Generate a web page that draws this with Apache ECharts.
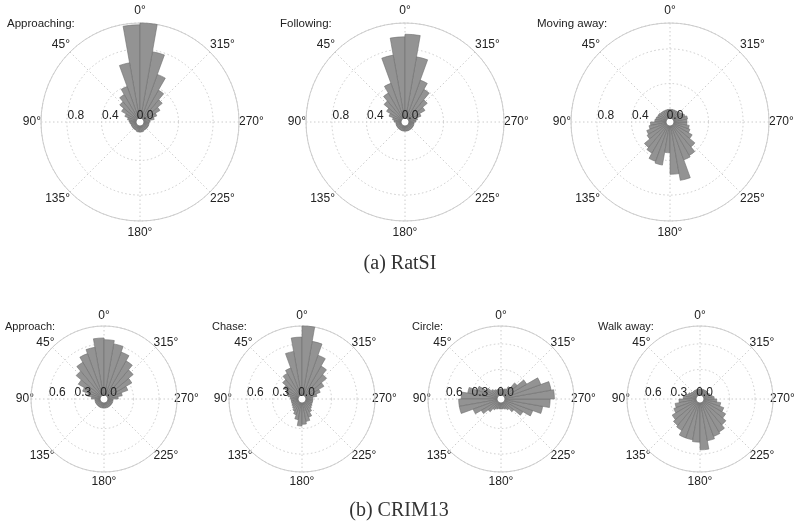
<!DOCTYPE html>
<html>
<head>
<meta charset="utf-8">
<script src="https://cdn.jsdelivr.net/npm/echarts@6/dist/echarts.min.js"></script>
<style>html,body{margin:0;padding:0;background:#fff}#c{width:794px;height:528px}</style>
</head>
<body>
<div id="c"></div>
<script>
// ---- data (36 angular bins of 10°, bin k covers [10k, 10k+10] degrees) ----
const bins = ['0','10','20','30','40','50','60','70','80','90','100','110','120','130','140','150','160','170',
              '180','190','200','210','220','230','240','250','260','270','280','290','300','310','320','330','340','350'];
const angleTickLabels = ['0°','45°','90°','135°','180°','225°','270°','315°'];
const ratsiRadiusLabels = ['0.0','0.4','0.8'];
const crimRadiusLabels = ['0.0','0.3','0.6'];

const approaching = [1.08,0.65,0.39,0.32,0.26,0.20,0.14,0.10,0.08,0.07,0.06,0.06,0.06,0.06,0.06,0.06,0.07,0.07,
                     0.07,0.07,0.06,0.06,0.06,0.06,0.06,0.06,0.06,0.07,0.12,0.16,0.22,0.29,0.38,0.54,0.78,1.10];
const following   = [0.94,0.74,0.43,0.34,0.27,0.20,0.15,0.10,0.08,0.06,0.06,0.06,0.06,0.06,0.06,0.06,0.06,0.06,
                     0.06,0.06,0.06,0.06,0.06,0.06,0.06,0.06,0.06,0.08,0.10,0.15,0.22,0.29,0.39,0.47,0.72,0.97];
const movingAway  = [0.10,0.10,0.10,0.10,0.10,0.11,0.11,0.12,0.13,0.18,0.20,0.24,0.26,0.34,0.37,0.44,0.46,0.31,
                     0.56,0.64,0.42,0.40,0.33,0.25,0.20,0.18,0.15,0.15,0.16,0.14,0.12,0.11,0.10,0.10,0.10,0.10];
const approach    = [0.67,0.57,0.52,0.45,0.38,0.30,0.22,0.15,0.10,0.06,0.06,0.06,0.06,0.06,0.06,0.06,0.06,0.06,
                     0.06,0.06,0.06,0.06,0.06,0.06,0.06,0.06,0.06,0.12,0.17,0.25,0.33,0.40,0.47,0.54,0.61,0.65];
const chase       = [0.68,0.52,0.34,0.30,0.25,0.20,0.15,0.12,0.09,0.08,0.08,0.08,0.09,0.10,0.12,0.15,0.20,0.27,
                     0.25,0.22,0.18,0.13,0.10,0.09,0.08,0.08,0.08,0.08,0.13,0.18,0.25,0.33,0.40,0.50,0.64,0.81];
const circle      = [0.07,0.07,0.07,0.08,0.10,0.15,0.25,0.35,0.42,0.45,0.45,0.30,0.22,0.15,0.10,0.08,0.07,0.07,
                     0.07,0.07,0.08,0.10,0.15,0.25,0.35,0.45,0.53,0.58,0.55,0.45,0.30,0.20,0.12,0.08,0.07,0.07];
const walkAway    = [0.07,0.07,0.07,0.07,0.07,0.08,0.10,0.12,0.15,0.20,0.25,0.28,0.33,0.36,0.38,0.44,0.44,0.46,
                     0.55,0.45,0.42,0.40,0.35,0.30,0.25,0.20,0.15,0.12,0.10,0.08,0.07,0.07,0.07,0.07,0.07,0.07];

const titles = ['Approaching:','Following:','Moving away:','Approach:','Chase:','Circle:','Walk away:'];
const captions = ['(a) RatSI','(b) CRIM13'];

// ---- layout ----
const rowA = {R:99, max:1.1,  step:0.4, labels: ratsiRadiusLabels, fs:11.5, am:0,  lh:24, rpad:18};
const rowB = {R:73, max:0.81, step:0.3, labels: crimRadiusLabels,  fs:11,   am:-3, lh:26, rpad:17};
const panels = [
  Object.assign({data: approaching, cx:140, cy:122, tx:7,   ty:24 }, rowA),
  Object.assign({data: following,   cx:405, cy:122, tx:280, ty:24 }, rowA),
  Object.assign({data: movingAway,  cx:670, cy:122, tx:537, ty:24 }, rowA),
  Object.assign({data: approach,    cx:104, cy:399, tx:5,   ty:327}, rowB),
  Object.assign({data: chase,       cx:302, cy:399, tx:212, ty:327}, rowB),
  Object.assign({data: circle,      cx:501, cy:399, tx:412, ty:327}, rowB),
  Object.assign({data: walkAway,    cx:700, cy:399, tx:598, ty:327}, rowB)
];

const FONT = 'Liberation Sans, Arial, sans-serif';
const gridColor = '#cccccc';
const hidden = {axisLine: {show: false}, axisTick: {show: false}, axisLabel: {show: false}, splitLine: {show: false}};
const polar = [], angleAxis = [], radiusAxis = [], series = [], graphic = [];

panels.forEach((p, i) => {
  const pb = 3 * i, pg = 3 * i + 1, pl = 3 * i + 2;
  polar.push({center: [p.cx, p.cy], radius: [4, p.R]});
  polar.push({center: [p.cx, p.cy], radius: [4, p.R]});
  polar.push({center: [p.cx, p.cy], radius: [4, p.R]});
  // bars polar
  angleAxis.push(Object.assign({polarIndex: pb, type: 'category', data: bins, startAngle: 90, clockwise: false}, hidden));
  radiusAxis.push(Object.assign({polarIndex: pb, type: 'value', min: 0, max: p.max}, hidden));
  // grid polar (startAngle 180 so that angle labels can be mapped)
  angleAxis.push({polarIndex: pg, type: 'value', min: 0, max: 360, interval: 45, startAngle: 180, clockwise: false,
    axisLine: {show: true, lineStyle: {color: gridColor, width: 1}},
    axisTick: {show: false},
    axisLabel: {show: true, margin: p.am, color: '#222', fontSize: 12, fontFamily: FONT,
      rich: {v: {fontSize: 12, fontFamily: FONT, color: '#222', lineHeight: p.lh},
             d: {fontSize: 12, fontFamily: FONT, color: '#222', lineHeight: 14}},
      formatter: v => {
        if (v >= 360) return '';
        const d = (v + 90) % 360;
        const t = angleTickLabels[d / 45];
        return (d === 0 || d === 180) ? '{v|' + t + '}' : '{d|' + t + '}';
      }},
    splitLine: {show: true, lineStyle: {color: gridColor, width: 1, type: [1.5, 2.5]}}});
  radiusAxis.push({polarIndex: pg, type: 'value', min: 0, max: p.max, interval: p.step,
    axisLine: {show: false}, axisTick: {show: false}, axisLabel: {show: false},
    splitLine: {show: true, lineStyle: {color: gridColor, width: 1, type: [1.5, 2.5]}}});
  // radial label polar, drawn above the bars (radius axis lies along the left horizontal)
  angleAxis.push(Object.assign({polarIndex: pl, type: 'value', min: 0, max: 360, startAngle: 180, clockwise: false}, hidden));
  radiusAxis.push({polarIndex: pl, type: 'value', min: 0, max: p.max, interval: p.step, z: 10,
    axisLine: {show: false}, axisTick: {show: false}, splitLine: {show: false},
    axisLabel: {show: true, margin: -12, color: '#222', fontSize: 12, fontFamily: FONT, padding: [0, 0, 0, p.rpad],
      formatter: v => { const k = Math.round(v / p.step); if (Math.abs(v - k * p.step) > 1e-6 || k >= p.labels.length) return ''; return p.labels[k]; }}});
  series.push({type: 'bar', coordinateSystem: 'polar', polarIndex: pb, data: p.data,
    barCategoryGap: '0%', z: 3, silent: true,
    itemStyle: {color: '#939393', borderColor: '#6f6f6f', borderWidth: 0.6}});
  graphic.push({type: 'text', x: p.tx, y: p.ty, silent: true,
    style: {text: titles[i], fill: '#222', font: p.fs + 'px ' + FONT, align: 'left', verticalAlign: 'middle'}});
});

graphic.push({type: 'text', x: 400, y: 264, style: {text: captions[0], fill: '#333', font: '20px "Liberation Serif", serif', align: 'center', verticalAlign: 'middle'}});
graphic.push({type: 'text', x: 399, y: 511, style: {text: captions[1], fill: '#333', font: '20px "Liberation Serif", serif', align: 'center', verticalAlign: 'middle'}});

const chart = echarts.init(document.getElementById('c'), null, {renderer: 'canvas'});
chart.setOption({animation: false, backgroundColor: '#fff', polar, angleAxis, radiusAxis, series, graphic});
</script>
</body>
</html>
